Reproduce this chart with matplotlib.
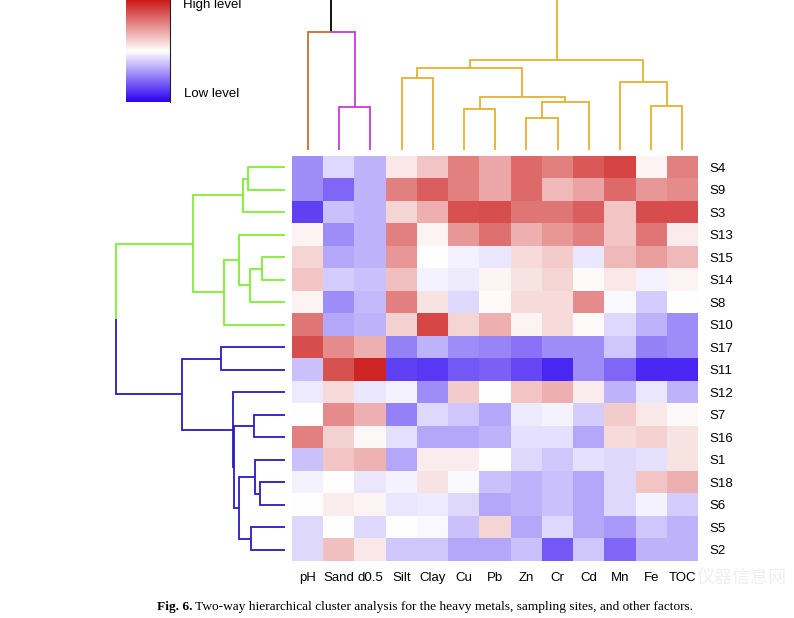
import numpy as np
import matplotlib
matplotlib.use('Agg')
import matplotlib.pyplot as plt
from matplotlib.colors import LinearSegmentedColormap

# ---------------- data ----------------
columns = ['pH', 'Sand', 'd0.5', 'Silt', 'Clay', 'Cu', 'Pb', 'Zn', 'Cr', 'Cd', 'Mn', 'Fe', 'TOC']
sites = ['S4', 'S9', 'S3', 'S13', 'S15', 'S14', 'S8', 'S10', 'S17',
         'S11', 'S12', 'S7', 'S16', 'S1', 'S18', 'S6', 'S5', 'S2']

# standardized level (-1 low ... +1 high), rows follow `sites`, columns follow `columns`
levels = [
    [-0.45, -0.15, -0.30,  0.10,  0.25,  0.55,  0.38,  0.65,  0.55,  0.72,  0.82,  0.05,  0.55],  # S4
    [-0.45, -0.60, -0.30,  0.55,  0.70,  0.55,  0.38,  0.65,  0.30,  0.40,  0.65,  0.45,  0.50],  # S9
    [-0.75, -0.25, -0.30,  0.18,  0.35,  0.75,  0.77,  0.60,  0.60,  0.70,  0.25,  0.78,  0.78],  # S3
    [ 0.05, -0.45, -0.30,  0.55,  0.05,  0.45,  0.62,  0.35,  0.45,  0.55,  0.25,  0.60,  0.08],  # S13
    [ 0.18, -0.35, -0.30,  0.45,  0.00, -0.05, -0.10,  0.15,  0.22, -0.10,  0.30,  0.42,  0.30],  # S15
    [ 0.25, -0.20, -0.25,  0.28, -0.05, -0.08,  0.05,  0.12,  0.18,  0.02,  0.10, -0.05,  0.05],  # S14
    [ 0.05, -0.45, -0.28,  0.55,  0.12, -0.15,  0.02,  0.15,  0.15,  0.50, -0.03, -0.20,  0.00],  # S8
    [ 0.60, -0.35, -0.30,  0.20,  0.80,  0.18,  0.35,  0.05,  0.15,  0.02, -0.15, -0.30, -0.45],  # S10
    [ 0.78,  0.50,  0.35, -0.50, -0.30, -0.45, -0.48, -0.55, -0.45, -0.45, -0.22, -0.50, -0.45],  # S17
    [-0.25,  0.75,  0.95, -0.75, -0.78, -0.65, -0.62, -0.72, -0.85, -0.45, -0.60, -0.85, -0.85],  # S11
    [-0.08,  0.15, -0.10, -0.05, -0.45,  0.22,  0.00,  0.25,  0.35,  0.08, -0.30, -0.10, -0.30],  # S12
    [ 0.00,  0.50,  0.35, -0.50, -0.15, -0.22, -0.35, -0.08, -0.05, -0.20,  0.22,  0.10,  0.03],  # S7
    [ 0.55,  0.20,  0.03, -0.12, -0.35, -0.35, -0.30, -0.12, -0.12, -0.35,  0.15,  0.20,  0.12],  # S16
    [-0.25,  0.25,  0.33, -0.35,  0.08,  0.08,  0.00, -0.15, -0.22, -0.12, -0.15, -0.12,  0.12],  # S1
    [-0.05,  0.00, -0.10, -0.05,  0.12, -0.03, -0.25, -0.30, -0.25, -0.35, -0.15,  0.25,  0.35],  # S18
    [ 0.00,  0.08,  0.05, -0.10, -0.08, -0.15, -0.35, -0.30, -0.25, -0.35, -0.15, -0.05, -0.20],  # S6
    [-0.15,  0.00, -0.15,  0.00, -0.03, -0.25,  0.18, -0.35, -0.15, -0.35, -0.40, -0.22, -0.30],  # S5
    [-0.15,  0.28,  0.10, -0.22, -0.22, -0.35, -0.35, -0.25, -0.65, -0.22, -0.60, -0.30, -0.30],  # S2
]

# column dendrogram merges: (child_a, child_b, height); ints refer to earlier merges
col_merges = [
    ('Sand', 'd0.5', 43.0),   # 0
    ('pH', 0, 118.0),         # 1
    ('Silt', 'Clay', 72.3),   # 2
    ('Cu', 'Pb', 41.3),       # 3
    ('Zn', 'Cr', 32.0),       # 4
    (4, 'Cd', 48.0),          # 5
    (3, 5, 53.3),             # 6
    (2, 6, 82.0),             # 7
    ('Fe', 'TOC', 44.3),      # 8
    ('Mn', 8, 67.7),          # 9
    (7, 9, 90.3),             # 10
    (1, 10, 175.0),           # 11 root (above the visible area)
]

# row dendrogram merges
row_merges = [
    ('S4', 'S9', 36.7),       # 0
    (0, 'S3', 41.7),          # 1
    ('S15', 'S14', 22.7),     # 2
    (2, 'S8', 35.3),          # 3
    ('S13', 3, 46.3),         # 4
    (4, 'S10', 60.7),         # 5
    (1, 5, 92.0),             # 6
    ('S17', 'S11', 64.0),     # 7
    ('S7', 'S16', 31.3),      # 8
    ('S18', 'S6', 25.3),      # 9
    ('S1', 9, 30.3),          # 10
    ('S5', 'S2', 34.0),       # 11
    (10, 11, 45.7),           # 12
    (8, 12, 50.7),            # 13
    ('S12', 13, 52.3),        # 14
    (7, 14, 103.3),           # 15
    (6, 15, 168.7),           # 16 root
]

col_colors = {1: 'black', 'pH': '#C8702E', 0: '#C63AD8', 10: '#E6B22E'}
row_colors = {6: '#80EE30', 15: '#2A1CC0'}

caption_bold = 'Fig. 6.'
caption_rest = ' Two-way hierarchical cluster analysis for the heavy metals, sampling sites, and other factors.'

# ---------------- figure ----------------
W, H = 794, 618
fig = plt.figure(figsize=(W / 100, H / 100), dpi=100)
fig.patch.set_facecolor('white')


def px_axes(x0, y0, x1, y1):
    return fig.add_axes([x0 / W, 1 - y1 / H, (x1 - x0) / W, (y1 - y0) / H])


cmap = LinearSegmentedColormap.from_list('bwr_key', ['#2A00F0', '#FFFFFF', '#CC1A1A'])
FONT = 'Liberation Sans'

# watermark (behind everything)
fig.text(742 / W, 1 - 578 / H, '仪器信息网', fontsize=13, family=['Noto Sans CJK SC', 'DejaVu Sans'],
         color='#EFEFEF', ha='center', va='center', zorder=0)

# heatmap
hx0, hy0, hx1, hy1 = 292.3, 156, 698, 561
axh = px_axes(hx0, hy0, hx1, hy1)
axh.imshow(np.array(levels), cmap=cmap, vmin=-1, vmax=1, aspect='auto', interpolation='nearest')
axh.set_xticks(range(len(columns)))
axh.set_xticklabels(columns, fontsize=9.5, family=FONT)
axh.set_yticks(range(len(sites)))
axh.set_yticklabels(sites, fontsize=9.5, family=FONT)
axh.yaxis.tick_right()
axh.tick_params(axis='x', length=0, pad=8)
axh.tick_params(axis='y', length=0, pad=8.5)
for s in axh.spines.values():
    s.set_visible(False)


def draw_dendro(ax, leaves, merges, colors, horizontal):
    pos = {name: float(i) for i, name in enumerate(leaves)}
    hgt = {name: 0.0 for name in leaves}
    for k, (a, b, h) in enumerate(merges):
        pos[k] = (pos[a] + pos[b]) / 2
        hgt[k] = h

    def walk(node, color):
        if not isinstance(node, int):
            return
        a, b, h = merges[node]
        for ch in (a, b):
            cc = colors.get(ch, color)
            p = [pos[node], pos[ch], pos[ch]]
            q = [h, h, hgt[ch]]
            if horizontal:
                ax.plot(p, q, color=cc, lw=1.3, solid_capstyle='butt', solid_joinstyle='miter')
            else:
                ax.plot(q, p, color=cc, lw=1.3, solid_capstyle='butt', solid_joinstyle='miter')
            walk(ch, cc)

    walk(len(merges) - 1, 'black')


# column dendrogram (top)
axt = px_axes(hx0, 0, hx1, 150)
draw_dendro(axt, columns, col_merges, col_colors, horizontal=True)
axt.set_xlim(-0.5, len(columns) - 0.5)
axt.set_ylim(0, 150)
axt.axis('off')

# row dendrogram (left)
axl = px_axes(0, hy0, 285, hy1)
draw_dendro(axl, sites, row_merges, row_colors, horizontal=False)
axl.set_xlim(285, 0)
axl.set_ylim(len(sites) - 0.5, -0.5)
axl.axis('off')

# colour key
axk = px_axes(125.7, 0, 170.3, 101.7)
grad = np.linspace(1, -1, 256).reshape(-1, 1)
axk.imshow(grad, cmap=cmap, vmin=-1, vmax=1, aspect='auto', extent=[0, 1, -1, 1])
axk.set_xticks([])
axk.set_yticks([])
for side, s in axk.spines.items():
    s.set_visible(side == 'right')
    s.set_linewidth(0.8)
    s.set_color('#222222')

fig.text(183 / W, 1 - 8 / H, 'High level', fontsize=9.5, family=FONT, va='baseline', ha='left')
fig.text(184 / W, 1 - 97 / H, 'Low level', fontsize=9.5, family=FONT, va='baseline', ha='left')

# caption
t1 = fig.text(157 / W, 1 - 610 / H, caption_bold, fontsize=9.6, family='Liberation Serif',
              weight='bold', va='baseline', ha='left')
axh.annotate(caption_rest, xy=(1, 0), xycoords=t1, fontsize=9.6,
             family='Liberation Serif', va='bottom', ha='left', annotation_clip=False)

fig.savefig('out.png', dpi=100, facecolor='white')
